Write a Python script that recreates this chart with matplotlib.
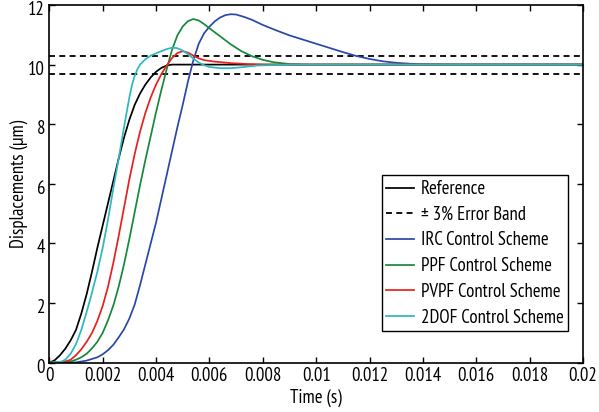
import matplotlib
matplotlib.use("Agg")
import matplotlib.pyplot as plt
import matplotlib.transforms as mtransforms
from matplotlib import font_manager

# prefer a narrow sans face for the labels, fall back to a smaller DejaVu
fonts = font_manager.fontManager.ttflist
narrow = [f for f in fonts if "Narrow" in f.name and "Sans" in f.name]
condensed = [f for f in fonts if f.name == "DejaVu Sans" and f.stretch == "condensed"]
if narrow:
    plt.rcParams["font.family"] = [narrow[0].name, "DejaVu Sans"]
    plt.rcParams["font.size"] = 13.5
elif condensed:
    plt.rcParams["font.family"] = ["DejaVu Sans"]
    plt.rcParams["font.stretch"] = "condensed"
    plt.rcParams["font.size"] = 11
else:
    plt.rcParams["font.family"] = ["DejaVu Sans"]
    plt.rcParams["font.size"] = 10

# step responses (time in s, displacement in um)
t_ref = [0, 0.0002, 0.0004, 0.0006, 0.0008, 0.001, 0.0012, 0.0014, 0.0016, 0.0018,
         0.002, 0.0022, 0.0024, 0.0026, 0.0028, 0.003, 0.0032, 0.0034, 0.0036, 0.0038,
         0.004, 0.0042, 0.0044, 0.0046, 0.02]
y_ref = [0, 0.08, 0.25, 0.47, 0.75, 1.1, 1.65, 2.3, 3.05, 3.85,
         4.6, 5.35, 6.1, 6.85, 7.55, 8.15, 8.65, 9.03, 9.33, 9.57,
         9.76, 9.89, 9.97, 10.0, 10.0]

t_irc = [0, 0.001, 0.0014, 0.0018, 0.002, 0.0022, 0.0024, 0.0026, 0.0028, 0.003,
         0.0032, 0.0034, 0.0036, 0.0038, 0.004, 0.0042, 0.0044, 0.0046, 0.0048, 0.005,
         0.0052, 0.0054, 0.0056, 0.0058, 0.006, 0.0062, 0.0064, 0.0066, 0.0068, 0.007,
         0.0073, 0.0076, 0.008, 0.0085, 0.009, 0.0095, 0.01, 0.0105, 0.011, 0.0115,
         0.012, 0.0125, 0.013, 0.0135, 0.014, 0.015, 0.02]
y_irc = [0, 0.01, 0.07, 0.18, 0.28, 0.42, 0.6, 0.85, 1.12, 1.48,
         1.95, 2.6, 3.3, 4.0, 4.7, 5.5, 6.3, 7.1, 7.9, 8.65,
         9.45, 10.15, 10.7, 11.05, 11.27, 11.45, 11.58, 11.66, 11.69, 11.68,
         11.6, 11.5, 11.33, 11.15, 10.98, 10.84, 10.7, 10.56, 10.42, 10.29,
         10.19, 10.11, 10.06, 10.03, 10.01, 10.0, 10.0]

t_ppf = [0, 0.0006, 0.0008, 0.001, 0.0012, 0.0014, 0.0016, 0.0018, 0.002, 0.0022,
         0.0024, 0.0026, 0.0028, 0.003, 0.0032, 0.0034, 0.0036, 0.0038, 0.004, 0.0042,
         0.0044, 0.0046, 0.0048, 0.005, 0.0052, 0.0054, 0.0056, 0.0058, 0.006, 0.0064,
         0.0068, 0.0072, 0.0076, 0.008, 0.0084, 0.009, 0.0096, 0.02]
y_ppf = [0, 0.01, 0.04, 0.1, 0.18, 0.3, 0.48, 0.7, 1.0, 1.42,
         1.92, 2.55, 3.3, 4.15, 5.05, 5.95, 6.8, 7.6, 8.4, 9.15,
         9.85, 10.5, 10.98, 11.28, 11.46, 11.53, 11.48, 11.36, 11.22, 10.95,
         10.68, 10.45, 10.28, 10.16, 10.08, 10.02, 10.0, 10.0]

t_pvpf = [0, 0.0005, 0.0008, 0.001, 0.0012, 0.0014, 0.0016, 0.0018, 0.002, 0.0022,
          0.0024, 0.0026, 0.0028, 0.003, 0.0032, 0.0034, 0.0036, 0.0038, 0.004, 0.0042,
          0.0044, 0.0046, 0.0048, 0.005, 0.0052, 0.0054, 0.0056, 0.0058, 0.0062, 0.0068,
          0.0074, 0.008, 0.02]
y_pvpf = [0, 0.01, 0.1, 0.25, 0.45, 0.7, 1.0, 1.4, 1.9, 2.55,
          3.35, 4.25, 5.2, 6.15, 7.0, 7.75, 8.38, 8.9, 9.33, 9.68,
          9.97, 10.22, 10.39, 10.45, 10.4, 10.3, 10.21, 10.15, 10.1, 10.05,
          10.02, 10.0, 10.0]

t_2dof = [0, 0.0004, 0.0006, 0.0008, 0.001, 0.0012, 0.0014, 0.0016, 0.0018, 0.002,
          0.0022, 0.0024, 0.0026, 0.0028, 0.003, 0.0031, 0.0032, 0.0033, 0.0034, 0.0036,
          0.0038, 0.004, 0.0042, 0.0044, 0.0046, 0.0048, 0.005, 0.0052, 0.0054, 0.0056,
          0.0058, 0.006, 0.0064, 0.0068, 0.0072, 0.0078, 0.009, 0.02]
y_2dof = [0, 0.02, 0.1, 0.3, 0.62, 1.1, 1.7, 2.35, 3.05, 3.85,
          4.8, 5.85, 6.85, 7.9, 8.9, 9.32, 9.62, 9.84, 10.0, 10.18,
          10.3, 10.38, 10.45, 10.52, 10.57, 10.55, 10.47, 10.35, 10.2, 10.07,
          9.98, 9.92, 9.88, 9.88, 9.91, 9.97, 10.0, 10.0]

band_t = [0, 0.02]
band_hi = [10.3, 10.3]
band_lo = [9.7, 9.7]

fig = plt.figure(figsize=(5.99, 4.12), dpi=100)
ax = fig.add_axes([0.0823, 0.1197, 0.8910, 0.8682])

lw = 1.25
ax.plot(t_ref, y_ref, color="black", lw=lw, label="Reference")
ax.plot(band_t, band_hi, color="black", lw=1.3, dashes=(3.3, 2.4),
        label="\u00b1 3% Error Band")
ax.plot(band_t, band_lo, color="black", lw=1.3, dashes=(3.3, 2.4))
ax.plot(t_irc, y_irc, color="#2a47a8", lw=lw, label="IRC Control Scheme")
ax.plot(t_ppf, y_ppf, color="#16883a", lw=lw, label="PPF Control Scheme")
ax.plot(t_pvpf, y_pvpf, color="#e8201c", lw=lw, label="PVPF Control Scheme")
ax.plot(t_2dof, y_2dof, color="#2bb8c0", lw=lw, label="2DOF Control Scheme")

ax.set_xlim(0, 0.02)
ax.set_ylim(0, 12)
ax.set_xticks([0, 0.002, 0.004, 0.006, 0.008, 0.01, 0.012, 0.014, 0.016, 0.018, 0.02])
ax.set_xticklabels(["0", "0.002", "0.004", "0.006", "0.008", "0.01", "0.012",
                    "0.014", "0.016", "0.018", "0.02"])
ax.set_yticks([0, 2, 4, 6, 8, 10, 12])
ax.tick_params(direction="in", top=True, right=True, length=4, width=1, pad=3)
for s in ax.spines.values():
    s.set_linewidth(1.2)

# y tick labels sit a little below their ticks
shift = mtransforms.ScaledTranslation(0, -3 / 100, fig.dpi_scale_trans)
for lab in ax.get_yticklabels():
    lab.set_transform(lab.get_transform() + shift)

ax.set_xlabel("Time (s)", labelpad=3)
ax.set_ylabel("Displacements (\u03bcm)", labelpad=0)

leg = ax.legend(loc="lower right", bbox_to_anchor=(0.972, 0.088),
                fancybox=False, framealpha=1, edgecolor="black",
                handlelength=1.45, handletextpad=0.38, labelspacing=0.41,
                borderpad=0.25, borderaxespad=0)
leg.get_frame().set_linewidth(1.0)

fig.savefig("out.png", dpi=100)
